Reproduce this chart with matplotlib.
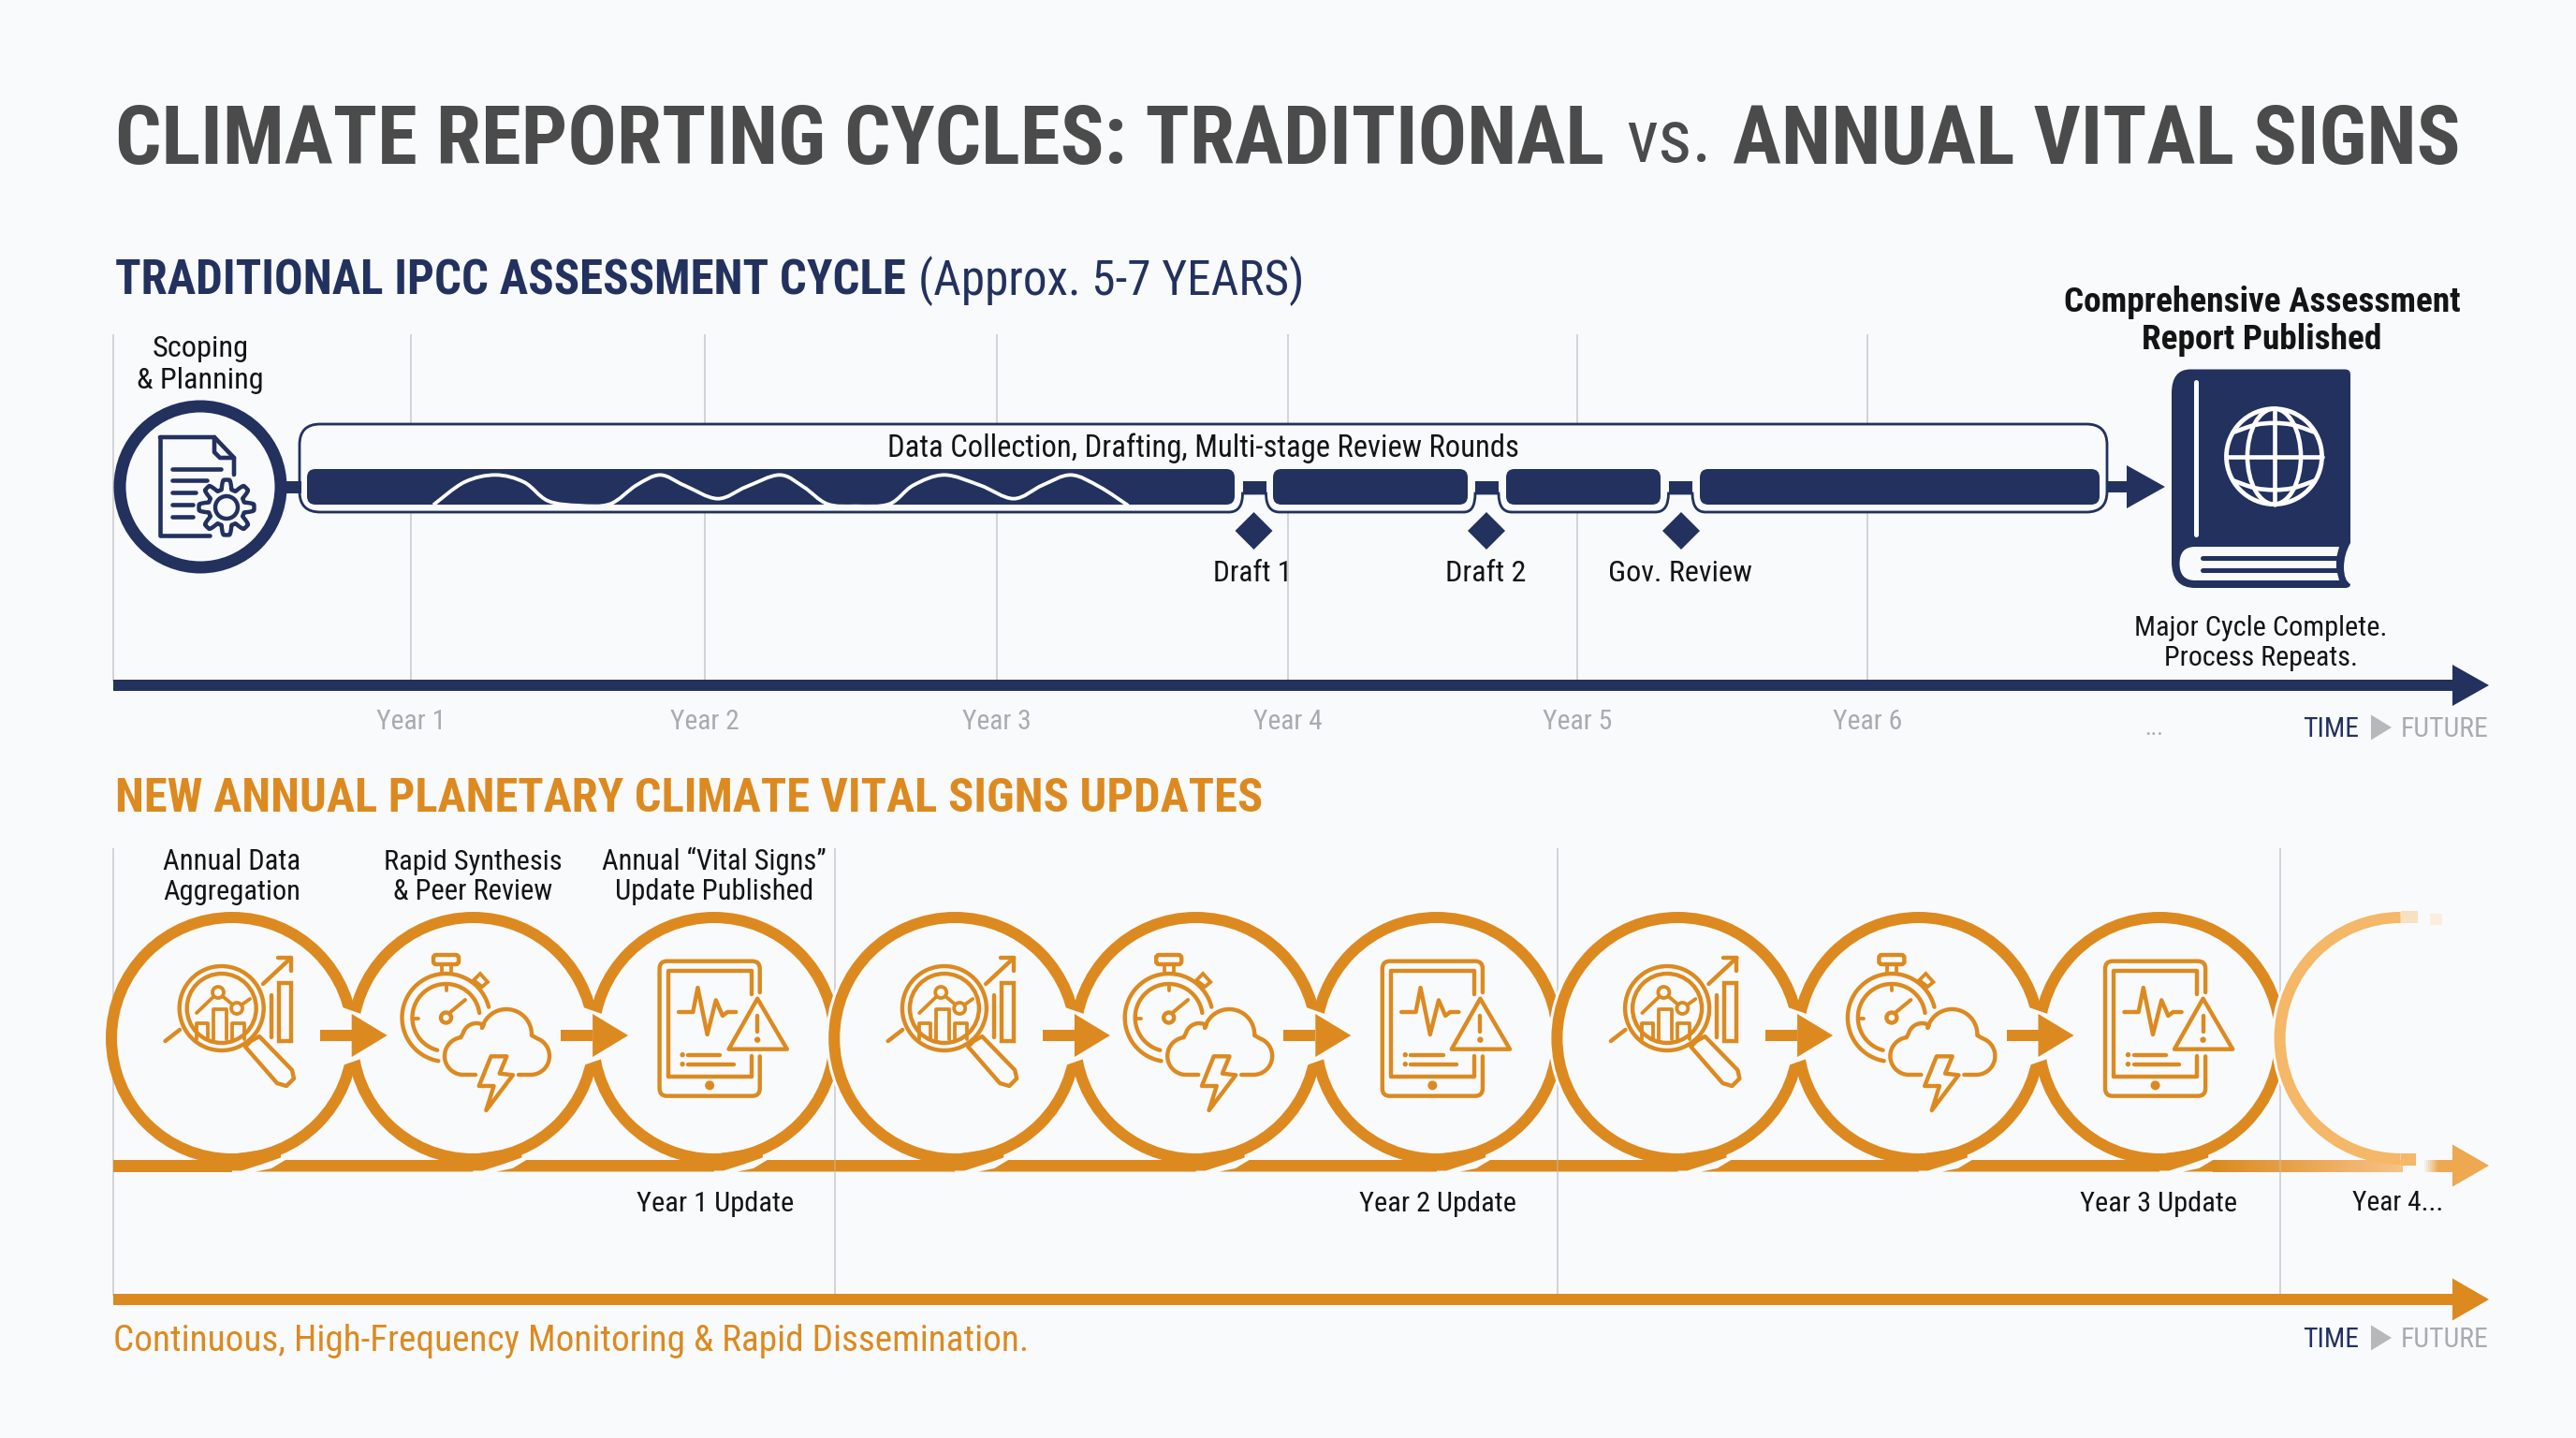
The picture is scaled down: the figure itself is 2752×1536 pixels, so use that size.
import numpy as np
import matplotlib
matplotlib.use("Agg")
import matplotlib.pyplot as plt
from matplotlib import font_manager as fm
from matplotlib.colors import to_rgb
from matplotlib.patches import Circle, Arc, Polygon, PathPatch, FancyBboxPatch, Rectangle, Ellipse
from matplotlib.path import Path

# ---------- content ----------
TITLE_PARTS = ["CLIMATE REPORTING CYCLES: TRADITIONAL", "vs.", "ANNUAL VITAL SIGNS"]
HEAD_TOP = ["TRADITIONAL IPCC ASSESSMENT CYCLE", "(Approx. 5-7 YEARS)"]
HEAD_BOTTOM = "NEW ANNUAL PLANETARY CLIMATE VITAL SIGNS UPDATES"
YEAR_LABELS = ["Year 1", "Year 2", "Year 3", "Year 4", "Year 5", "Year 6"]
MILESTONES = ["Draft 1", "Draft 2", "Gov. Review"]
STEP_LABELS = [["Annual Data", "Aggregation"], ["Rapid Synthesis", "& Peer Review"],
               ["Annual \u201cVital Signs\u201d", "Update Published"]]
UPDATE_LABELS = ["Year 1 Update", "Year 2 Update", "Year 3 Update"]
CAPTION = "Continuous, High-Frequency Monitoring & Rapid Dissemination."

# ---------- style ----------
BG = "#F8FAFC"
NAVY = "#22315E"
ORANGE = "#DC8A20"
FADE = "#F5B768"
GRID = "#C9CBCE"
INK = "#141414"
GREY = "#A9ABAE"
ICON = 4.4
names = {f.name for f in fm.fontManager.ttflist}
COND = next((n for n in ["Roboto Condensed", "Liberation Sans Narrow", "Roboto"] if n in names), "DejaVu Sans")

fig = plt.figure(figsize=(27.52, 15.36), dpi=100, facecolor=BG)
ax = fig.add_axes([0, 0, 1, 1])
ax.set_xlim(0, 2752)
ax.set_ylim(1536, 0)
ax.axis("off")
renderer = fig.canvas.get_renderer()
PX = 0.72  # points per pixel


def T(s, x, yc, width, ha="center", color=INK, weight="normal", z=20):
    t = ax.text(x, yc, s, ha=ha, va="baseline", color=color, fontweight=weight,
                fontfamily=COND, fontsize=20, zorder=z)
    w = t.get_window_extent(renderer).width
    size = 20 * width / w
    t.set_fontsize(size)
    t.set_y(yc + 0.35 * size / PX)
    return t


def L(xs, ys, c, w, z=10, cap="round", alpha=None):
    ax.plot(xs, ys, color=c, lw=w * PX, solid_capstyle=cap, solid_joinstyle="round", zorder=z, alpha=alpha)


def smooth(pts):
    pts = np.asarray(pts, float)
    v = [pts[0]]
    c = [Path.MOVETO]
    P = np.vstack([pts[0], pts, pts[-1]])
    for i in range(1, len(P) - 2):
        v += [P[i] + (P[i + 1] - P[i - 1]) / 6, P[i + 1] - (P[i + 2] - P[i]) / 6, P[i + 1]]
        c += [Path.CURVE4] * 3
    return Path(v, c)


def arrow(x0, x1, base, y, half, thick, c, z=12):
    ax.add_patch(Rectangle((x0, y - thick / 2), base - x0, thick, fc=c, ec="none", zorder=z))
    ax.add_patch(Polygon([(base, y - half), (x1, y), (base, y + half)], fc=c, ec="none", zorder=z))


def timefuture(yc, ytri):
    T("TIME", 2460, yc, 60, ha="left", color=NAVY)
    ax.add_patch(Polygon([(2533, ytri - 13.5), (2555, ytri), (2533, ytri + 13.5)], fc="#B7B8BA", ec="none", zorder=20))
    T("FUTURE", 2565, yc, 94, ha="left", color=GREY)


# ---------- headings ----------
for s, x0, x1, w in zip(TITLE_PARTS, [123, 1737, 1851], [1715, 1829, 2629], ["bold", "normal", "bold"]):
    T(s, x0, 145, x1 - x0, ha="left", color="#4B4B4B", weight=w)
T(HEAD_TOP[0], 123, 297, 846, ha="left", color=NAVY, weight="bold")
T(HEAD_TOP[1], 981, 297, 411, ha="left", color=NAVY)
T(HEAD_BOTTOM, 123, 849, 1227, ha="left", color=ORANGE, weight="bold")

# ---------- top timeline ----------
year_x = [439, 753, 1065, 1376, 1685, 1995]
for x in [121] + year_x:
    L([x, x], [357, 728], GRID, 1.6, z=1, cap="butt")
for s, x in zip(YEAR_LABELS, year_x):
    T(s, x, 769, 74, color=GREY)
T("...", 2301, 776, 20, color=GREY)
arrow(121, 2659, 2620, 732, 22, 12, NAVY)
timefuture(777, 777)

# scoping circle
T("Scoping", 214, 370, 103)
T("& Planning", 214, 404, 135)
ax.add_patch(Circle((214, 520), 86, fc=BG, ec=NAVY, lw=13 * PX, zorder=6))
ax.add_patch(Rectangle((300, 514), 22, 13, fc=NAVY, ec="none", zorder=5))
# document
L([224, 171, 171], [572, 572, 467], NAVY, 4.6, z=7)
L([171, 229, 250, 250], [467, 467, 489, 507], NAVY, 4.6, z=7)
L([229, 229, 235, 250], [467, 483, 489, 489], NAVY, 4.6, z=7)
for y, x1 in zip([501, 513, 526, 539, 552], [236, 221, 209, 206, 206]):
    L([184, x1], [y, y], NAVY, 4.6, z=7)
# gear
th = np.linspace(0, 2 * np.pi, 241)
rad = 24.5 + 5 * np.clip(1.7 * np.cos(8 * th), -1, 1)
ax.add_patch(Polygon(np.c_[242 + rad * np.cos(th), 542 + rad * np.sin(th)], fc=BG, ec=NAVY, lw=4.4 * PX, zorder=7, joinstyle="round"))
ax.add_patch(Circle((242, 542), 12, fc=BG, ec=NAVY, lw=4.4 * PX, zorder=8))

# container with notches
notches = [(1313, 1327.5, 1352.5, 1367), (1564, 1576, 1601, 1615), (1768.5, 1782.5, 1808, 1822)]
top, bot, lft, rgt, r, ny = 453, 547, 320, 2251, 22, 527
v = [(lft + r, top), (rgt - r, top), (rgt, top), (rgt, top + r), (rgt, bot - r), (rgt, bot), (rgt - r, bot)]
c = [Path.MOVETO, Path.LINETO, Path.CURVE3, Path.CURVE3, Path.LINETO, Path.CURVE3, Path.CURVE3]
for a, b, d, e in reversed(notches):
    v += [(e, bot), (d, bot), (d, ny), (b, ny), (b, bot), (a, bot)]
    c += [Path.LINETO, Path.CURVE3, Path.CURVE3, Path.LINETO, Path.CURVE3, Path.CURVE3]
v += [(lft + r, bot), (lft, bot), (lft, bot - r), (lft, top + r), (lft, top), (lft + r, top), (lft + r, top)]
c += [Path.LINETO, Path.CURVE3, Path.CURVE3, Path.LINETO, Path.CURVE3, Path.CURVE3, Path.CLOSEPOLY]
ax.add_patch(PathPatch(Path(v, c), fc=BG, ec=NAVY, lw=2.8 * PX, zorder=3))
T("Data Collection, Drafting, Multi-stage Review Rounds", 1285, 477, 673)

# progress segments
segments = [(328, 1319), (1360, 1568), (1609, 1774), (1816, 2243)]
bars = []
for a, b in segments:
    p = FancyBboxPatch((a, 501), b - a, 38, boxstyle="round,pad=0,rounding_size=9", fc=NAVY, ec="none", zorder=5)
    ax.add_patch(p)
    bars.append(p)
for a, b, d, e in notches:
    ax.add_patch(Rectangle((b, 514), d - b, 13, fc=NAVY, ec="none", zorder=4))
wave_d = [(45, 148), (110, 75), (175, 52), (235, 75), (285, 135), (350, 150), (415, 145), (470, 85), (520, 52),
          (570, 85), (640, 128), (700, 90), (770, 52), (820, 90), (870, 145), (930, 152), (1000, 145), (1050, 85),
          (1115, 52), (1190, 85), (1260, 128), (1320, 85), (1380, 52), (1440, 90), (1500, 150)]
wave = [(440 + a / 1.96, 490 + b / 3) for a, b in wave_d]
wp = PathPatch(smooth(wave), fc="none", ec="white", lw=3.8 * PX, zorder=6)
ax.add_patch(wp)
wp.set_clip_path(bars[0])

for s, x, lw_ in zip(MILESTONES, [1339.5, 1588, 1796], [84, 86, 154]):
    ax.add_patch(Polygon([(x - 20, 567), (x, 547), (x + 20, 567), (x, 587)], fc=NAVY, ec="none", zorder=8))
    T(s, x - 1, 610, lw_)

arrow(2251, 2313, 2272, 520, 23, 12, NAVY, z=2)

# report book
T("Comprehensive Assessment", 2417, 320, 421, weight="bold")
T("Report Published", 2416, 360, 255, weight="bold")
T("Major Cycle Complete.", 2415, 668, 270)
T("Process Repeats.", 2415, 700, 207)
bx = [(2340, 394.5), (2505, 394.5), (2511, 394.5), (2511, 400), (2511, 580), (2504, 592), (2504, 606), (2504, 620), (2511, 624),
      (2511, 628), (2505, 628), (2345, 628), (2320, 628), (2320, 600), (2320, 420), (2320, 394.5), (2340, 394.5), (2340, 394.5)]
bc = [Path.MOVETO, Path.LINETO, Path.CURVE3, Path.CURVE3, Path.LINETO, Path.CURVE3, Path.CURVE3, Path.CURVE3, Path.CURVE3,
      Path.CURVE3, Path.CURVE3, Path.LINETO, Path.CURVE3, Path.CURVE3, Path.LINETO, Path.CURVE3, Path.CURVE3, Path.CLOSEPOLY]
ax.add_patch(PathPatch(Path(bx, bc), fc=NAVY, ec="none", zorder=6))
L([2345.5, 2345.5], [408, 571], "white", 5, z=7)
pg = [(2499, 584), (2345, 584), (2328.5, 584), (2328.5, 602), (2328.5, 620), (2345, 620), (2499, 620), (2496, 608), (2496, 596), (2499, 584)]
pc = [Path.MOVETO, Path.LINETO, Path.CURVE3, Path.CURVE3, Path.CURVE3, Path.CURVE3, Path.LINETO, Path.LINETO, Path.LINETO, Path.CLOSEPOLY]
ax.add_patch(PathPatch(Path(pg, pc), fc="#F8FAFC", ec="none", zorder=7))
for y in [595.5, 608.5]:
    L([2353, 2497], [y, y], NAVY, 5, z=8)
gx, gy, gr = 2429.5, 487.6, 51
ax.add_patch(Circle((gx, gy), gr, fc="none", ec="white", lw=4.8 * PX, zorder=8))
L([gx, gx], [gy - gr, gy + gr], "white", 4.6, z=8)
L([gx - gr, gx + gr], [gy, gy], "white", 4.6, z=8)
ax.add_patch(Ellipse((gx, gy), gr * 1.12, gr * 2, fc="none", ec="white", lw=4.6 * PX, zorder=8))
for sgn in (-1, 1):
    xs = np.array([gx - gr * 0.87, gx - gr * 0.4, gx, gx + gr * 0.4, gx + gr * 0.87])
    ys = gy + sgn * gr * np.array([0.5, 0.66, 0.7, 0.66, 0.5])
    ax.add_patch(PathPatch(smooth(np.c_[xs, ys]), fc="none", ec="white", lw=4.6 * PX, zorder=8))

# ---------- bottom timeline ----------
C0, STEP, CY, RM, RW = 248.0, 257.4, 1109, 129, 12
centres = [C0 + STEP * k for k in range(10)]
for x in [121, 892, 1664, 2436]:
    L([x, x], [906, 1384], GRID, 1.6, z=1, cap="butt")
arrow(121, 2659, 2620, 1388, 22.5, 11.5, ORANGE)
timefuture(1429, 1429)
T(CAPTION, 121, 1429, 976, ha="left", color=ORANGE)

yb0, yb1 = 1239, 1251.5


def seg_head(a):
    return [(a + 25, yb1), (a + 42, yb1 - 3.5), (a + 57, yb0)]


# baseline pieces
ax.add_patch(Rectangle((121, yb0), C0 - 121, yb1 - yb0, fc=ORANGE, ec="none", zorder=3))
for a, b in zip(centres[:8], centres[1:9]):
    ax.add_patch(Polygon(seg_head(a) + [(b, yb0), (b, yb1)], fc=ORANGE, ec="none", zorder=3))
# fading piece after the ninth ring
g0 = np.array(to_rgb(ORANGE))
g1 = np.array(to_rgb("#F7C387"))
a = centres[8]
xs = np.linspace(a + 57, 2566, 60)
ax.add_patch(Polygon(seg_head(a) + [(a + 57, yb1)], fc=ORANGE, ec="none", zorder=3))
for x0, x1 in zip(xs[:-1], xs[1:]):
    f = (x0 - xs[0]) / (xs[-1] - xs[0])
    ax.add_patch(Rectangle((x0, yb0), x1 - x0 + 1, yb1 - yb0, fc=g0 + (g1 - g0) * f, ec="none", zorder=3))
# faint gridlines showing across the baseline
for x in [892, 1664, 2436]:
    L([x, x], [yb0, yb1], GRID, 1.6, z=3.2, cap="butt", alpha=0.45)
# rings; the last ring of each group runs under the next group's disc
for i, cx in enumerate(centres[:9]):
    ringz = 1.5 if i % 3 == 2 else 4
    ax.add_patch(Circle((cx, CY), RM, fc="none", ec=ORANGE, lw=RW * PX, zorder=ringz))
    tail = [(cx - 32, yb0 - 5), (cx - 20, yb1 - 1), (cx + 10, yb1 - 1), (cx + 32, yb1 - 8), (cx + 52, yb1 - 15), (cx + 52, yb0 - 14), (cx, yb0 - 6)]
    ax.add_patch(Polygon(tail, fc=ORANGE, ec="none", zorder=4))
    if i % 3 == 0 and i > 0:
        ax.add_patch(Circle((cx, CY), RM + 9, fc=BG, ec="none", zorder=1.7))
# fading ring
cx = centres[9]
ax.add_patch(Circle((cx, CY), RM + 9, fc=BG, ec="none", zorder=1.7))
ax.add_patch(Arc((cx, CY), RM * 2, RM * 2, theta1=90, theta2=270, ec=FADE, lw=RW * PX, zorder=3.5))
ax.add_patch(Rectangle((cx, 973), 18, 12.5, fc="#F8E0C2", ec="none", zorder=4))
ax.add_patch(Rectangle((cx + 31, 976), 13, 12, fc="#FBEEDF", ec="none", zorder=4))
ax.add_patch(Rectangle((cx, 1232), 16, 13, fc=FADE, ec="none", zorder=4))
for x0 in np.arange(2588, 2620, 2.0):
    f = min(1, (x0 - 2588) / 16)
    ax.add_patch(Rectangle((x0, yb0), 2.5, yb1 - yb0, fc=np.array(to_rgb(BG)) + (np.array(to_rgb("#EDA850")) - np.array(to_rgb(BG))) * f, ec="none", zorder=5))
ax.add_patch(Polygon([(2620, 1245 - 22.5), (2659, 1245), (2620, 1245 + 22.5)], fc="#EDA850", ec="none", zorder=5))
# arrows between the steps of each yearly group
for i, (a, b) in enumerate(zip(centres[:8], centres[1:9])):
    if i % 3 == 2:
        continue
    xj = (a + b) / 2
    ax.add_patch(Polygon([(xj - 14, 1075), (xj + 12, 1084), (xj + 42, 1106), (xj + 12, 1130), (xj - 14, 1139)], fc=BG, ec="none", zorder=5))
    arrow(xj - 35, xj + 37, xj - 1, 1106, 23, 12.5, ORANGE, z=6)


def magnifier(cx):
    o = cx - 248
    col = ORANGE
    ax.add_patch(Circle((236.7 + o, 1077), 45, fc="none", ec=col, lw=ICON * PX, zorder=7))
    ax.add_patch(Circle((236.7 + o, 1077), 37, fc="none", ec=col, lw=ICON * PX, zorder=7))
    L([176.5 + o, 192 + o], [1112, 1100], col, ICON, z=7)
    hp = [(268, 1112), (262, 1118), (296, 1157), (306, 1160), (314, 1152), (312, 1143), (277, 1107)]
    ax.add_patch(Polygon([(q + o, w) for q, w in hp], fc=BG, ec=col, lw=ICON * PX, joinstyle="round", zorder=7))
    for x0, x1, y0 in [(210, 222, 1093), (227.5, 242, 1078), (248, 261, 1093)]:
        L([x0 + o, x0 + o, x1 + o, x1 + o], [1110, y0, y0, 1110], col, ICON - .6, z=7)
    L([210 + o, 233 + o, 253 + o, 267 + o], [1082, 1060, 1077, 1067], col, ICON - .6, z=7)
    for x, y in [(233, 1060), (253, 1077)]:
        ax.add_patch(Circle((x + o, y), 6, fc=BG, ec=col, lw=(ICON - .6) * PX, zorder=8))
    L([281 + o, 311 + o], [1051, 1023], col, ICON, z=7)
    L([297 + o, 311 + o, 311 + o], [1023, 1023, 1037], col, ICON, z=7)
    ax.add_patch(Rectangle((298 + o, 1050), 13, 62, fc="none", ec=col, lw=ICON * PX, zorder=7))
    L([290 + o, 290 + o], [1063, 1108], col, ICON, z=7)


def arc_pts(cx, cy, r, t0, t1, n=40):
    t = np.radians(np.linspace(t0, t1, n))
    return np.c_[cx + r * np.cos(t), cy + r * np.sin(t)]


def watch(cx):
    o = cx - 505.4
    col = ORANGE
    ang = np.radians(np.linspace(14, 260, 60))
    L(476.5 + o + 47 * np.cos(ang), 1087 - 47 * np.sin(ang), col, ICON, z=7)
    ang = np.radians(np.linspace(8, 255, 60))
    L(476.5 + o + 36 * np.cos(ang), 1087 - 36 * np.sin(ang), col, ICON, z=7)
    ax.add_patch(FancyBboxPatch((463 + o, 1020), 27, 10, boxstyle="round,pad=0,rounding_size=3", fc="none", ec=col, lw=ICON * PX, zorder=7))
    L([472 + o, 472 + o], [1030, 1040], col, ICON - .6, z=7)
    L([482 + o, 482 + o], [1030, 1040], col, ICON - .6, z=7)
    ax.add_patch(Polygon([(506 + o, 1047), (513 + o, 1040), (521 + o, 1049), (515 + o, 1054)], fc="none", ec=col, lw=(ICON - .6) * PX, zorder=7))
    ax.add_patch(Circle((476.5 + o, 1087), 5.5, fc="none", ec=col, lw=ICON * PX, zorder=7))
    L([480 + o, 497 + o], [1082, 1068], col, ICON - .4, z=7)
    L([476.5 + o, 476.5 + o], [1053, 1058], col, ICON - .6, z=7)
    L([441 + o, 447 + o], [1088, 1088], col, ICON - .6, z=7)
    cloud = np.vstack([[[508, 1148], [495, 1148]],
                       arc_pts(495, 1128, 20, 90, 262),
                       arc_pts(509, 1108, 15, 195, 300),
                       arc_pts(541, 1105, 27, 195, 362),
                       arc_pts(567, 1128, 20, 290, 450),
                       [[554, 1148]]]) + [o, 0]
    ax.add_patch(Polygon(cloud, fc=BG, ec="none", zorder=7.5))
    L(cloud[:, 0], cloud[:, 1], col, ICON, z=8)
    bolt_d = [(832, 535), (865, 535), (850, 590), (878, 595), (822, 708), (838, 630), (807, 630)]
    ax.add_patch(Polygon([(100 + q / 1.96 + o, 950 + w / 3) for q, w in bolt_d], fc=BG, ec=col, lw=ICON * PX, joinstyle="round", zorder=8.5))


def tablet(cx):
    o = cx - 762.8
    col = ORANGE
    fx = lambda d: 100 + d / 1.96 + o
    fy = lambda d: 950 + d / 3
    # outer body with right-side break
    xo0, xo1, yo0, yo1 = fx(1185), fx(1395), fy(230), fy(662)
    p = [(xo1, fy(330)), (xo1, yo0 + 8), (xo1, yo0), (xo1 - 8, yo0), (xo0 + 8, yo0), (xo0, yo0), (xo0, yo0 + 8), (xo0, yo1 - 8),
         (xo0, yo1), (xo0 + 8, yo1), (xo1 - 8, yo1), (xo1, yo1), (xo1, yo1 - 8), (xo1, fy(535))]
    k = [Path.MOVETO, Path.LINETO, Path.CURVE3, Path.CURVE3, Path.LINETO, Path.CURVE3, Path.CURVE3, Path.LINETO,
         Path.CURVE3, Path.CURVE3, Path.LINETO, Path.CURVE3, Path.CURVE3, Path.LINETO]
    ax.add_patch(PathPatch(Path(p, k), fc="none", ec=col, lw=ICON * PX, zorder=7, capstyle="round"))
    xi0, xi1, yi0, yi1 = fx(1203), fx(1378), fy(262), fy(600)
    L([xi1, xi1, xi0, xi0, xi1, xi1], [fy(335), yi0, yi0, yi1, yi1, fy(535)], col, ICON, z=7)
    ecg = [(1225, 393), (1255, 393), (1265, 315), (1285, 465), (1303, 355), (1317, 405), (1327, 393), (1345, 393)]
    L([fx(a) for a, _ in ecg], [fy(b) for _, b in ecg], col, ICON, z=7)
    ax.add_patch(Polygon([(fx(1390), fy(350)), (fx(1452), fy(512)), (fx(1330), fy(512))], fc=BG, ec=col, lw=ICON * PX, joinstyle="round", zorder=8))
    L([fx(1390), fx(1390)], [fy(405), fy(455)], col, ICON, z=9)
    ax.add_patch(Circle((fx(1390), fy(482)), 3.2, fc=col, ec="none", zorder=9))
    for y, x1 in [(530, 1312), (560, 1340)]:
        L([fx(1245), fx(x1)], [fy(y), fy(y)], col, ICON, z=7)
        ax.add_patch(Circle((fx(1233), fy(y)), 2.7, fc=col, ec="none", zorder=7))
    ax.add_patch(Circle((fx(1290), fy(628)), 5, fc=col, ec="none", zorder=7))


for k in range(3):
    magnifier(centres[3 * k])
    watch(centres[3 * k + 1])
    tablet(centres[3 * k + 2])

for lab, x, ws in zip(STEP_LABELS, centres[:3], [(146, 146), (190, 170), (239, 211)]):
    T(lab[0], x, 918, ws[0])
    T(lab[1], x, 950, ws[1])
for s, x in zip(UPDATE_LABELS, [764, 1536, 2306]):
    T(s, x, 1283, 167)
T("Year 4...", 2562, 1283, 97)

fig.savefig("out.png", dpi=100, facecolor=BG)
